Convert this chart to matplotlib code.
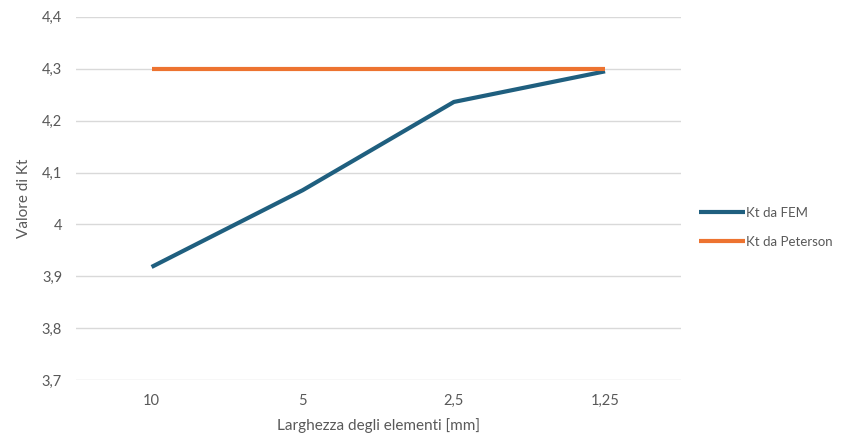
import matplotlib.pyplot as plt

# Dati
larghezze = ["10", "5", "2,5", "1,25"]
kt_fem = [3.918, 4.066, 4.236, 4.295]
kt_peterson = [4.3, 4.3, 4.3, 4.3]

plt.rcParams['font.family'] = ['Lato', 'DejaVu Sans']

fig = plt.figure(figsize=(8.54, 4.43), dpi=100)
ax = fig.add_axes([0.089, 0.142, 0.708, 0.820])

x = range(len(larghezze))
ax.plot(x, kt_fem, color="#1f5f7f", lw=3, solid_capstyle="butt", label="Kt da FEM")
ax.plot(x, kt_peterson, color="#ed7330", lw=3, solid_capstyle="butt", label="Kt da Peterson")

ax.set_xlim(-0.5, 3.5)
ax.set_ylim(3.7, 4.4)
yt = [3.7, 3.8, 3.9, 4.0, 4.1, 4.2, 4.3, 4.4]
ax.set_yticks(yt)
ax.set_yticklabels([("%g" % v).replace(".", ",") for v in yt])
ax.set_xticks(list(x))
ax.set_xticklabels(larghezze)
ax.grid(axis="y", color="#d9d9d9", lw=1)
ax.set_axisbelow(True)
for s in ax.spines.values():
    s.set_visible(False)
ax.tick_params(length=0, colors="#595959", labelsize=10.5, pad=10)

ax.set_xlabel("Larghezza degli elementi [mm]", color="#595959", fontsize=11, labelpad=7)
ax.set_ylabel("Valore di Kt", color="#595959", fontsize=11, labelpad=8)

leg = ax.legend(loc="center left", bbox_to_anchor=(1.01, 0.42), frameon=False,
                fontsize=9.5, handlelength=3.5, handletextpad=0.1, labelspacing=1.3)
for t in leg.get_texts():
    t.set_color("#595959")

fig.savefig("out.png", dpi=100)
